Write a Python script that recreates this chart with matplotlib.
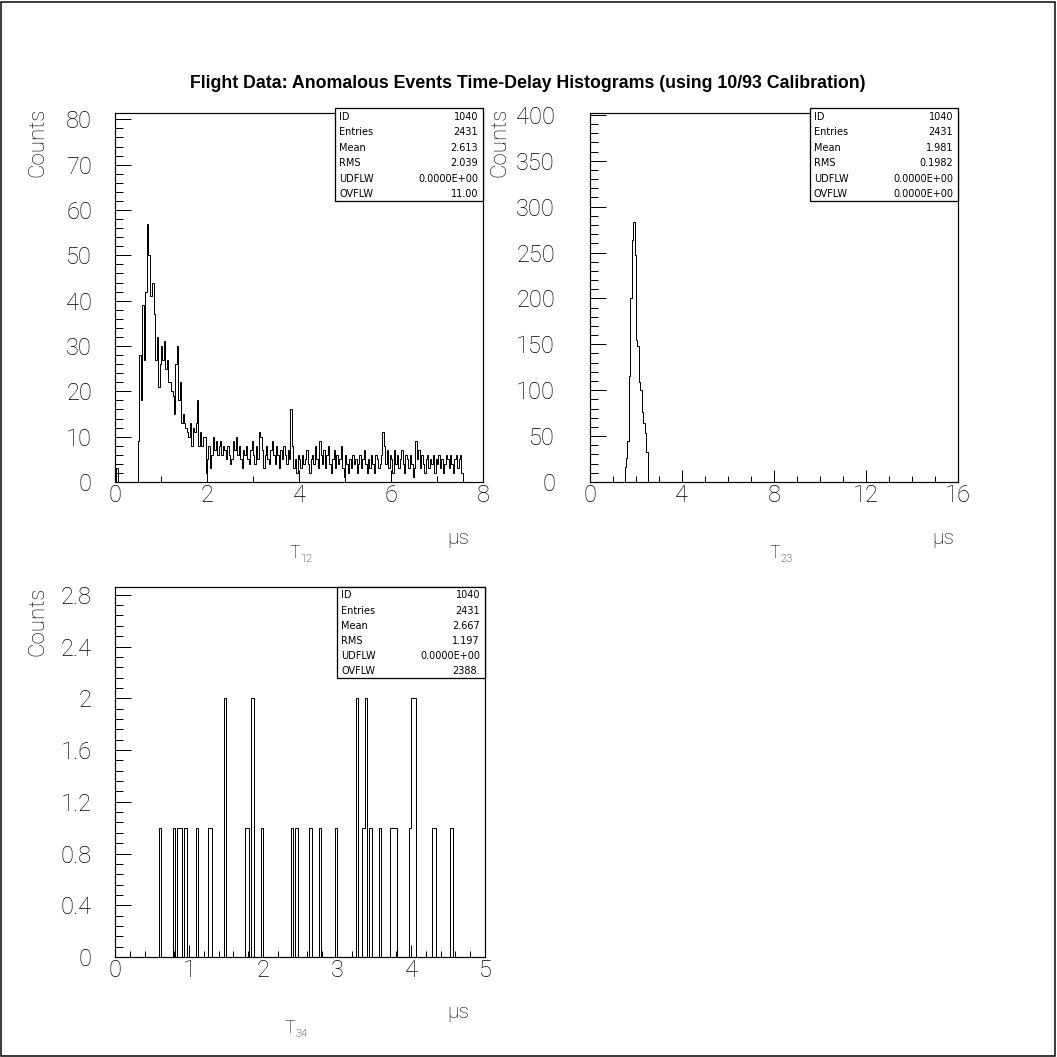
import numpy as np
import matplotlib
matplotlib.use("Agg")
import matplotlib.pyplot as plt
from matplotlib.patches import Rectangle
from matplotlib.ticker import MultipleLocator

W = H = 1057
DPI = 100

TITLE = "Flight Data: Anomalous Events Time-Delay Histograms (using 10/93 Calibration)"

STAT_NAMES = ["ID", "Entries", "Mean", "RMS", "UDFLW", "OVFLW"]
t12_stats = ["1040", "2431", "2.613", "2.039", "0.0000E+00", "11.00"]
t23_stats = ["1040", "2431", "1.981", "0.1982", "0.0000E+00", "0.0000E+00"]
t34_stats = ["1040", "2431", "2.667", "1.197", "0.0000E+00", "2388."]

# T12: 256 bins over 0-8 us (counts listed from bin 0)
t12_range = (0.0, 8.0)
t12_nbins = 256
t12_counts = [
    0, 3, 0, 0, 0, 0, 0, 0, 0, 0, 0, 0, 0, 0, 0, 0,
    9, 28, 18, 39, 27, 42, 57, 50, 41, 41, 44, 37, 27, 32, 21, 26,
    30, 27, 31, 25, 27, 22, 22, 20, 19, 15, 26, 30, 18, 22, 13, 15,
    13, 12, 11, 10, 13, 8, 12, 11, 13, 18, 8, 11, 8, 10, 10, 2,
    5, 8, 3, 6, 10, 7, 9, 6, 8, 9, 6, 8, 7, 5, 8, 6,
    4, 5, 9, 7, 10, 6, 8, 5, 3, 7, 6, 8, 5, 4, 7, 9,
    6, 4, 8, 5, 11, 10, 7, 3, 6, 8, 5, 4, 7, 9, 6, 4,
    8, 6, 3, 7, 5, 8, 6, 4, 7, 5, 16, 8, 3, 5, 2, 6,
    5, 3, 6, 4, 5, 7, 4, 2, 5, 6, 4, 8, 5, 3, 9, 6,
    4, 7, 3, 6, 8, 4, 2, 5, 7, 3, 6, 4, 5, 8, 3, 1,
    6, 4, 2, 5, 3, 6, 4, 5, 2, 4, 6, 3, 5, 7, 4, 2,
    5, 3, 6, 4, 2, 6, 5, 3, 4, 6, 11, 8, 4, 7, 3, 6,
    5, 2, 7, 4, 6, 3, 5, 7, 4, 2, 6, 5, 3, 6, 4, 1,
    3, 9, 5, 7, 3, 6, 4, 2, 5, 6, 3, 5, 4, 6, 2, 5,
    4, 6, 3, 5, 2, 4, 6, 5, 3, 6, 4, 2, 5, 6, 3, 5,
    6, 2,
]

# T23: 256 bins over 0-16 us (counts listed from bin 0)
t23_range = (0.0, 16.0)
t23_nbins = 256
t23_counts = [
    0, 0, 0, 0, 0, 0, 0, 0, 0, 0, 0, 0, 0, 0, 0, 0,
    0, 0, 0, 0, 0, 0, 0, 0,
    16, 26, 45, 116, 200, 264, 283, 247, 155, 148, 109, 100, 76, 64, 53, 33,
]

# T34: 160 bins over 0-5 us, sparse events (time, count)
t34_range = (0.0, 5.0)
t34_nbins = 160
t34_times = [0.62, 0.81, 0.86, 0.90, 0.94, 1.12, 1.27, 1.31, 1.49, 1.76,
             1.80, 1.86, 1.97, 2.38, 2.46, 2.63, 2.75, 2.97, 3.27, 3.35,
             3.38, 3.46, 3.58, 3.72, 3.76, 3.81, 3.97, 4.02, 4.05, 4.29,
             4.33, 4.56]
t34_counts = [1, 1, 1, 1, 1, 1, 1, 1, 2, 1,
              1, 2, 1, 1, 1, 1, 1, 1, 2, 1,
              2, 1, 1, 1, 1, 1, 1, 2, 2, 1,
              1, 1]

LIGHT = dict(family="Roboto", weight="light")


def px(v):
    return v * 72.0 / DPI


def add_axes_px(x0, y0, x1, y1):
    return fig.add_axes([x0 / W, 1 - y1 / H, (x1 - x0) / W, (y1 - y0) / H])


def full_counts(counts, nbins):
    arr = np.zeros(nbins)
    arr[:len(counts)] = counts
    return arr


def style_axes(ax, xmax, ymax, xmaj, xmin, ymaj, ymin, ylabel_pad, xfmt, yfmt):
    ax.set_xlim(0, xmax)
    ax.set_ylim(0, ymax)
    ax.xaxis.set_major_locator(MultipleLocator(xmaj))
    ax.xaxis.set_minor_locator(MultipleLocator(xmin))
    ax.yaxis.set_major_locator(MultipleLocator(ymaj))
    ax.yaxis.set_minor_locator(MultipleLocator(ymin))
    ax.xaxis.set_major_formatter(xfmt)
    ax.yaxis.set_major_formatter(yfmt)
    ax.tick_params(which="both", direction="in", top=False, right=False,
                   width=px(1.0), color="black")
    ax.tick_params(axis="y", which="major", length=px(16), pad=px(ylabel_pad))
    ax.tick_params(axis="y", which="minor", length=px(8))
    ax.tick_params(axis="x", which="major", length=px(12), pad=px(2))
    ax.tick_params(axis="x", which="minor", length=px(6))
    for lab in ax.get_xticklabels() + ax.get_yticklabels():
        lab.set_fontfamily(LIGHT["family"])
        lab.set_fontweight(LIGHT["weight"])
        lab.set_fontsize(17)
    for sp in ax.spines.values():
        sp.set_linewidth(px(1.2))
        sp.set_color("black")


def stats_box(x0, y0, x1, y1, values):
    fig.patches.append(Rectangle((x0 / W, 1 - y1 / H), (x1 - x0) / W, (y1 - y0) / H,
                                 transform=fig.transFigure, facecolor="white",
                                 edgecolor="black", linewidth=px(1.3), zorder=5))
    row = (y1 - y0) / len(values)
    for i, (name, val) in enumerate(zip(STAT_NAMES, values)):
        yc = y0 + row * (i + 0.55)
        fig.text((x0 + 4) / W, 1 - yc / H, name, ha="left", va="center",
                 fontsize=7, family="DejaVu Sans", zorder=6)
        fig.text((x1 - 5) / W, 1 - yc / H, val, ha="right", va="center",
                 fontsize=7, family="DejaVu Sans", zorder=6)


def axis_titles(ylab_x, ytop, mu_x, mu_y, t_x, t_y, sub):
    fig.text(ylab_x / W, 1 - ytop / H, "Counts", rotation=90, ha="center", va="top",
             fontsize=16, **LIGHT)
    fig.text(mu_x / W, 1 - mu_y / H, "\u03bcs", ha="left", va="center",
             fontsize=15, **LIGHT)
    fig.text(t_x / W, 1 - t_y / H, "T", ha="left", va="center", fontsize=13, **LIGHT)
    fig.text((t_x + 10) / W, 1 - (t_y + 6) / H, sub, ha="left", va="center",
             fontsize=8, **LIGHT)


fig = plt.figure(figsize=(W / DPI, H / DPI), dpi=DPI)
fig.patch.set_facecolor("white")

# outer frame of the page
fig.patches.append(Rectangle((0.001, 0.001), 0.997, 0.997, transform=fig.transFigure,
                             fill=False, edgecolor="black", linewidth=px(1.5)))

fig.text(528 / W, 1 - 84 / H, TITLE, ha="center", va="center",
         fontsize=12.8, fontweight="bold", family="Liberation Sans")

int_fmt = plt.FuncFormatter(lambda v, p: f"{v:.0f}")
one_fmt = plt.FuncFormatter(lambda v, p: ("0" if abs(v) < 1e-9 else
                                          (f"{v:.0f}" if abs(v - round(v)) < 1e-9 else f"{v:.1f}")))

# --- T12 ---
ax1 = add_axes_px(115, 113, 483, 482)
e1 = np.linspace(*t12_range, t12_nbins + 1)
ax1.stairs(full_counts(t12_counts, t12_nbins), e1, color="black", linewidth=px(1.0), baseline=0)
style_axes(ax1, 8, 81.4, 2, 1, 10, 2, 23, int_fmt, int_fmt)
stats_box(335, 108, 483, 201, t12_stats)
axis_titles(38, 108, 447, 538, 290, 553, "12")

# --- T23 ---
ax2 = add_axes_px(590, 113, 958, 482)
e2 = np.linspace(*t23_range, t23_nbins + 1)
ax2.stairs(full_counts(t23_counts, t23_nbins), e2, color="black", linewidth=px(1.0), baseline=0)
style_axes(ax2, 16, 402, 4, 1, 50, 10, 35, int_fmt, int_fmt)
stats_box(810, 108, 958, 201, t23_stats)
axis_titles(500, 108, 932, 538, 770, 553, "23")

# --- T34 ---
ax3 = add_axes_px(115, 587, 485, 957)
e3 = np.linspace(*t34_range, t34_nbins + 1)
h3, _ = np.histogram(t34_times, bins=e3, weights=t34_counts)
ax3.stairs(h3, e3, color="black", linewidth=px(1.0), baseline=0)
style_axes(ax3, 5, 2.86, 1, 0.2, 0.4, 0.08, 23, int_fmt, one_fmt)
stats_box(337, 587, 485, 678, t34_stats)
axis_titles(38, 587, 447, 1013, 285, 1028, "34")

fig.savefig("out.png", dpi=DPI, facecolor="white")
